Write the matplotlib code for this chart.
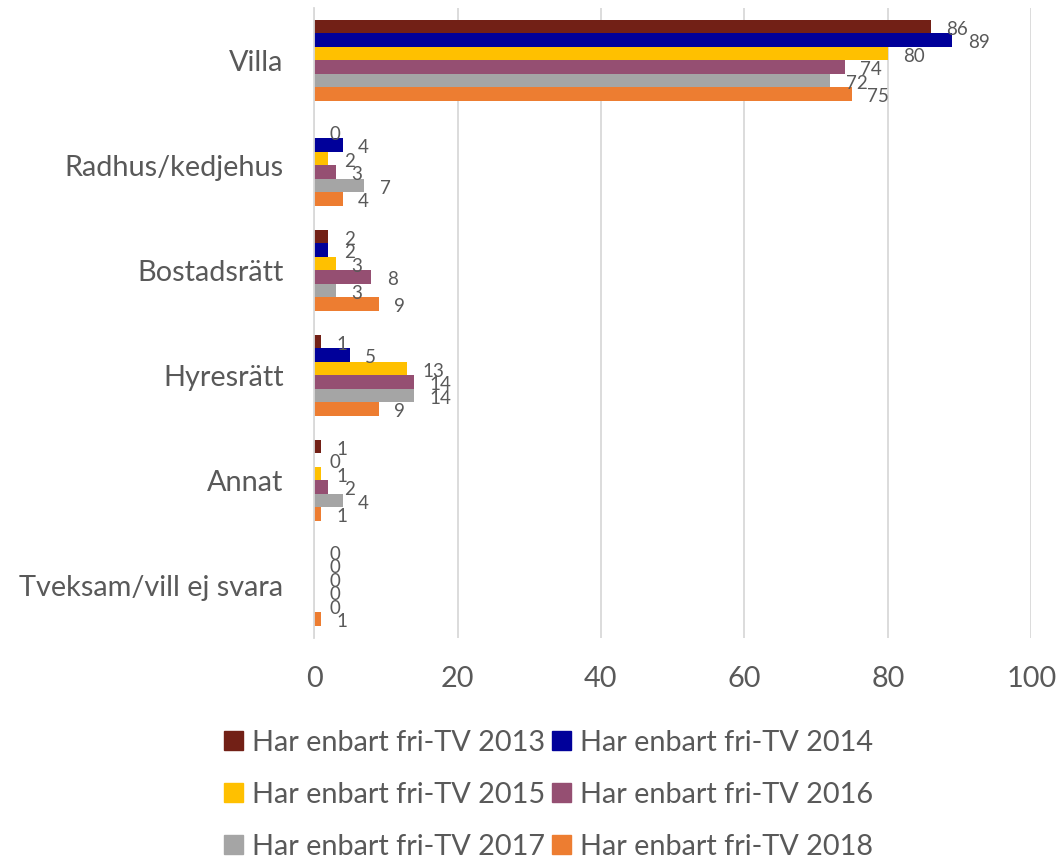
import matplotlib
matplotlib.use("Agg")
import matplotlib.pyplot as plt
import numpy as np
from matplotlib.patches import Patch

categories = ["Villa", "Radhus/kedjehus", "Bostadsrätt", "Hyresrätt", "Annat", "Tveksam/vill ej svara"]
series_names = ["Har enbart fri-TV 2013", "Har enbart fri-TV 2014", "Har enbart fri-TV 2015",
                "Har enbart fri-TV 2016", "Har enbart fri-TV 2017", "Har enbart fri-TV 2018"]
v2013 = [86, 0, 2, 1, 1, 0]
v2014 = [89, 4, 2, 5, 0, 0]
v2015 = [80, 2, 3, 13, 1, 0]
v2016 = [74, 3, 8, 14, 2, 0]
v2017 = [72, 7, 3, 14, 4, 0]
v2018 = [75, 4, 9, 9, 1, 1]
series = [v2013, v2014, v2015, v2016, v2017, v2018]
colors = ["#722016", "#00009A", "#FFC000", "#954F72", "#A5A5A5", "#ED7D31"]
xticks = [0, 20, 40, 60, 80, 100]

plt.rcParams['font.family'] = ['Lato', 'DejaVu Sans']
txt = "#595959"

fig = plt.figure(figsize=(10.61, 8.63), dpi=100)
ax = fig.add_axes([0.296, 0.261, 0.676, 0.730])

n = len(categories)
y = np.arange(n)
bh = 0.128
for i, (vals, c) in enumerate(zip(series, colors)):
    pos = y - 2.5 * bh + i * bh
    ax.barh(pos, vals, height=bh, color=c, zorder=3)
    for p, v in zip(pos, vals):
        ax.annotate(str(v), (v, p), xytext=(11, -2), textcoords="offset points",
                    ha="left", va="center", fontsize=13.5, color=txt, zorder=4)

ax.set_ylim(n - 0.5, -0.5)
ax.set_xlim(0, 100)
ax.set_yticks(y)
ax.set_yticklabels(categories, fontsize=20.8, color=txt)
ax.set_xticks(xticks)
ax.set_xticklabels([str(t) for t in xticks], fontsize=20.8, color=txt)
ax.tick_params(axis="both", length=0)
ax.tick_params(axis="y", pad=22)
ax.tick_params(axis="x", pad=20)
ax.grid(axis="x", color="#D9D9D9", linewidth=1.3, zorder=0)
for s in ["top", "right", "bottom"]:
    ax.spines[s].set_visible(False)
ax.spines["left"].set_color("#D9D9D9")
ax.spines["left"].set_linewidth(1.3)
ax.spines["left"].set_zorder(5)

handles = [Patch(color=c, label=l) for c, l in zip(colors, series_names)]
order = [0, 2, 4, 1, 3, 5]
fig.legend(handles=[handles[k] for k in order], loc="center", bbox_to_anchor=(0.517, 0.079), ncol=2,
           frameon=False, fontsize=20.8, labelcolor=txt, handlelength=0.65, handleheight=0.65,
           handletextpad=0.3, columnspacing=0.25, labelspacing=0.9)

fig.savefig("out.png", dpi=100)
